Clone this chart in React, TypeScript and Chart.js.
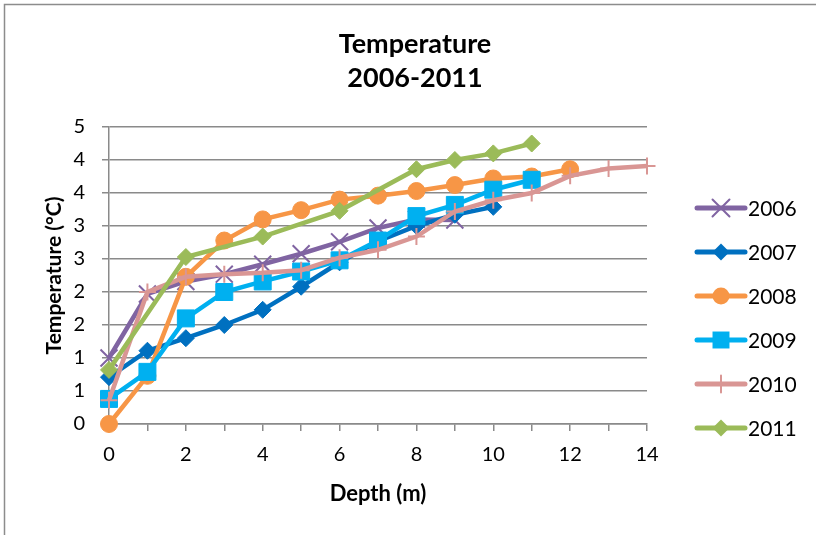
import React, { useEffect, useRef } from "react";
import { Chart, registerables } from "chart.js";

Chart.register(...registerables);

const titleLines = ["Temperature", "2006-2011"];
const xTitle = "Depth (m)";
const yTitle = "Temperature (°C)";
const depths = [0, 1, 2, 3, 4, 5, 6, 7, 8, 9, 10, 11, 12, 13, 14];
const seriesNames = ["2006", "2007", "2008", "2009", "2010", "2011"];
const t2006 = [1.0, 1.97, 2.16, 2.27, 2.42, 2.58, 2.76, 2.97, 3.1, 3.09];
const t2007 = [0.71, 1.11, 1.3, 1.5, 1.73, 2.08, 2.45, 2.77, 3.0, 3.17, 3.29];
const t2008 = [0, 0.73, 2.23, 2.78, 3.1, 3.24, 3.4, 3.46, 3.53, 3.62, 3.72, 3.75, 3.86];
const t2009 = [0.38, 0.79, 1.6, 2.0, 2.16, 2.31, 2.48, 2.78, 3.15, 3.32, 3.55, 3.7];
const t2010 = [0.36, 2.0, 2.23, 2.27, 2.29, 2.33, 2.52, 2.64, 2.84, 3.22, 3.39, 3.5, 3.76, 3.87, 3.91];
const t2011 = [0.82, null, 2.53, null, 2.84, null, 3.23, null, 3.86, 4.0, 4.1, 4.25];
const yMax = 4.5;
const yStep = 0.5;
const xMax = 14;

const colors = ["#8064A2", "#0070C0", "#F79646", "#00B0F0", "#D99694", "#9BBB59"];
const pointStyles = ["crossRot", "rectRot", "circle", "rect", "cross", "rectRot"];
const pointRadii = [12, 8.5, 8.5, 12, 8.5, 8.5];
const pointBorders = [2, 1, 1, 1, 2, 1];

const FONT = "Lato, 'Noto Sans', sans-serif";

function drawMarker(ctx, style, x, y, r, color, bw) {
  ctx.save();
  ctx.fillStyle = color;
  ctx.strokeStyle = color;
  ctx.lineWidth = bw;
  ctx.beginPath();
  if (style === "circle") {
    ctx.arc(x, y, r, 0, Math.PI * 2);
    ctx.fill();
  } else if (style === "rect") {
    const s = r * Math.SQRT1_2;
    ctx.rect(x - s, y - s, 2 * s, 2 * s);
    ctx.fill();
  } else if (style === "rectRot") {
    ctx.moveTo(x - r, y);
    ctx.lineTo(x, y - r);
    ctx.lineTo(x + r, y);
    ctx.lineTo(x, y + r);
    ctx.closePath();
    ctx.fill();
  } else if (style === "cross") {
    ctx.moveTo(x, y - r);
    ctx.lineTo(x, y + r);
    ctx.moveTo(x - r, y);
    ctx.lineTo(x + r, y);
    ctx.stroke();
  } else if (style === "crossRot") {
    const d = r * Math.SQRT1_2;
    ctx.moveTo(x - d, y - d);
    ctx.lineTo(x + d, y + d);
    ctx.moveTo(x - d, y + d);
    ctx.lineTo(x + d, y - d);
    ctx.stroke();
  }
  ctx.restore();
}

const decorPlugin = {
  id: "decor",
  afterDraw(chart) {
    const ctx = chart.ctx;
    ctx.save();
    // outer frame
    ctx.strokeStyle = "#8c8c8c";
    ctx.lineWidth = 1.5;
    ctx.strokeRect(4.5, 4.5, 900, 900);
    // title
    ctx.fillStyle = "#000";
    ctx.font = `bold 27px ${FONT}`;
    ctx.textAlign = "center";
    ctx.textBaseline = "middle";
    ctx.fillText(titleLines[0], 415, 44);
    ctx.fillText(titleLines[1], 415, 78);
    // legend
    const ys = [208, 252, 296, 340, 384, 428];
    chart.data.datasets.forEach((ds, i) => {
      const y = ys[i];
      ctx.strokeStyle = colors[i];
      ctx.lineWidth = 5;
      ctx.lineCap = "round";
      ctx.beginPath();
      ctx.moveTo(697, y);
      ctx.lineTo(745, y);
      ctx.stroke();
      drawMarker(ctx, pointStyles[i], 721, y, pointRadii[i], colors[i], pointBorders[i]);
      ctx.fillStyle = "#000";
      ctx.font = `21px ${FONT}`;
      ctx.textAlign = "left";
      ctx.textBaseline = "middle";
      ctx.fillText(seriesNames[i], 748, y + 1);
    });
    ctx.restore();
  },
};

function toPoints(arr) {
  return arr.map((v, i) => ({ x: depths[i], y: v }));
}

export default function App() {
  const ref = useRef(null);
  useEffect(() => {
    const all = [t2006, t2007, t2008, t2009, t2010, t2011];
    const chart = new Chart(ref.current, {
      type: "line",
      data: {
        datasets: all.map((arr, i) => ({
          label: seriesNames[i],
          data: toPoints(arr),
          borderColor: colors[i],
          backgroundColor: colors[i],
          borderWidth: 4.5,
          pointStyle: pointStyles[i],
          pointRadius: pointRadii[i],
          pointBorderWidth: pointBorders[i],
          pointBackgroundColor: colors[i],
          pointBorderColor: colors[i],
          tension: 0,
          spanGaps: true,
          clip: false,
          order: 5 - i,
        })),
      },
      options: {
        animation: false,
        responsive: false,
        maintainAspectRatio: false,
        layout: { padding: { top: 127, right: 169, left: 0, bottom: 0 } },
        plugins: { legend: { display: false }, title: { display: false }, tooltip: { enabled: false } },
        scales: {
          x: {
            type: "linear",
            min: 0,
            max: xMax,
            afterFit: (s) => { s.height = 111; },
            border: { color: "#8a8a8a", width: 1.5 },
            grid: { drawOnChartArea: false, drawTicks: true, tickLength: 7, color: "#8a8a8a", lineWidth: 1.5 },
            ticks: {
              stepSize: 1,
              autoSkip: false,
              maxRotation: 0,
              padding: 12,
              color: "#000",
              font: { family: FONT, size: 20 },
              callback: (v) => (v % 2 === 0 ? String(v) : ""),
            },
            title: {
              display: true,
              text: xTitle,
              color: "#000",
              font: { family: FONT, size: 22, weight: "bold" },
              padding: { top: 0, bottom: 28 },
            },
          },
          y: {
            type: "linear",
            min: 0,
            max: yMax,
            afterFit: (s) => { s.width = 109; },
            border: { color: "#8a8a8a", width: 1.5 },
            grid: { drawOnChartArea: true, drawTicks: true, tickLength: 7, color: "#8a8a8a", lineWidth: 1.5 },
            ticks: {
              stepSize: yStep,
              padding: 17,
              color: "#000",
              font: { family: FONT, size: 20 },
              callback: (v) => String(Math.round(v)),
            },
            title: {
              display: true,
              text: yTitle,
              color: "#000",
              font: { family: FONT, size: 21, weight: "bold" },
              padding: { top: 42, bottom: 0 },
            },
          },
        },
      },
      plugins: [decorPlugin],
    });
    return () => chart.destroy();
  }, []);
  return (
    <div style={{ position: "absolute", left: 0, top: 0, width: 816, height: 535, background: "#fff" }}>
      <canvas ref={ref} width={816} height={535} style={{ width: 816, height: 535, display: "block" }} />
    </div>
  );
}
